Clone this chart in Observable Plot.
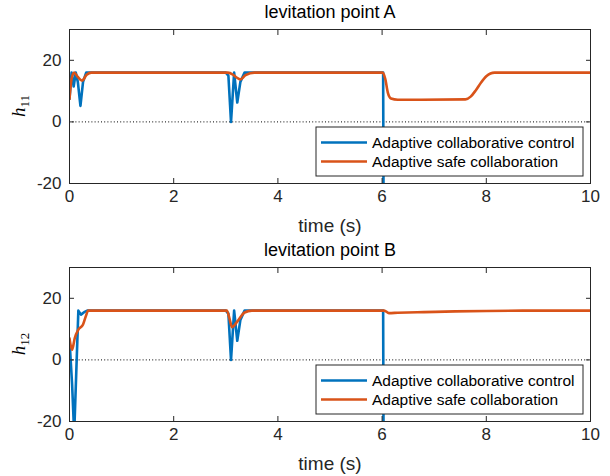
<!DOCTYPE html>
<html><head><meta charset="utf-8">
<script src="https://cdn.jsdelivr.net/npm/d3@7"></script>
<script src="https://cdn.jsdelivr.net/npm/@observablehq/plot@0.6"></script>
<style>
body{margin:0;background:#fff;}
#fig{width:610px;height:476px;background:#fff;}
#fig svg{display:block;}
</style></head><body><div id="fig"></div>
<script>
const seriesNames = ["Adaptive collaborative control", "Adaptive safe collaboration"];
const colors = ["#0072BD", "#D95319"];
const titles = ["levitation point A", "levitation point B"];
const ySubs = ["11", "12"];
const xTicks = [0, 2, 4, 6, 8, 10];
const yTicks = [-20, 0, 20];

// Panel A
const tA_ctrl = [0, 0.04, 0.08, 0.12, 0.16, 0.21, 0.26, 0.32, 3.0, 3.05, 3.1, 3.16, 3.22, 3.28, 3.36, 6.02, 6.03];
const hA_ctrl = [7.5, 16, 11.5, 16, 13, 5.2, 13, 16, 16, 15, 0, 16, 6.3, 13, 16, 16, -40];
const tA_safe = [0, 0.04, 0.09, 0.15, 0.24, 0.33, 0.42, 3.04, 3.14, 3.2, 3.28, 3.38, 3.55, 6.01, 6.06, 6.11, 6.17, 6.3, 7.6, 7.7, 7.8, 7.9, 8.0, 8.08, 8.16, 10];
const hA_safe = [7.5, 14, 16, 14.8, 13.4, 15.3, 16, 16, 15.3, 14.5, 13.8, 15.2, 16, 16, 14, 9.5, 7.6, 7.2, 7.3, 8.2, 10.3, 12.8, 14.8, 15.7, 16, 16];

// Panel B
const tB_ctrl = [0, 0.05, 0.09, 0.13, 0.17, 0.22, 0.28, 0.34, 3.0, 3.05, 3.1, 3.16, 3.22, 3.28, 3.36, 6.02, 6.03];
const hB_ctrl = [6.5, -8, -24, -4, 16, 14.7, 15.5, 16, 16, 15, 0, 16, 6.2, 13, 16, 16, -40];
const tB_safe = [0, 0.05, 0.1, 0.17, 0.26, 0.31, 0.36, 3.02, 3.07, 3.12, 3.23, 3.36, 3.5, 6.04, 6.13, 6.3, 6.8, 7.4, 8.0, 9.0, 10];
const hB_safe = [7, 3.3, 7, 9.8, 11.5, 14, 16, 16, 13.5, 10.6, 12.7, 15.4, 16, 16, 15.2, 15.3, 15.5, 15.75, 15.9, 16, 16];

const FONT = "'Liberation Sans', Arial, Helvetica, sans-serif";
const W = 610, H = 238, mT = 29, mB = 55, mL = 69, mR = 20;

function panel(idx, tc, hc, ts, hs) {
  const ctrl = tc.map((t, i) => ({t, h: hc[i]}));
  const safe = ts.map((t, i) => ({t, h: hs[i]}));
  const svg = Plot.plot({
    width: W, height: H, marginTop: mT, marginBottom: mB, marginLeft: mL, marginRight: mR,
    style: {fontFamily: FONT, fontSize: "17px", color: "#262626", background: "white", overflow: "visible"},
    x: {domain: [0, 10]},
    y: {domain: [-20, 30]},
    marks: [
      Plot.ruleY([0], {stroke: "#000", strokeWidth: 1, strokeDasharray: "1,2.2"}),
      Plot.line(ctrl, {x: "t", y: "h", stroke: colors[0], strokeWidth: 2.6, clip: true}),
      Plot.line(safe, {x: "t", y: "h", stroke: colors[1], strokeWidth: 2.6, curve: "monotone-x", clip: true}),
      Plot.frame({stroke: "#262626", strokeWidth: 1}),
      Plot.axisX({ticks: xTicks, tickSize: 0, tickPadding: 6, tickFormat: d => String(d), label: null, fontSize: 17, fill: "#262626"}),
      Plot.axisX({ticks: [], tickSize: 0, label: "time (s)", labelAnchor: "center", labelArrow: "none", labelOffset: 48, fontSize: 19, fill: "#262626"}),
      Plot.axisX({ticks: xTicks, tickSize: -5, tickFormat: () => "", label: null, stroke: "#262626"}),
      Plot.axisX({anchor: "top", ticks: xTicks, tickSize: -5, tickFormat: () => "", label: null, stroke: "#262626"}),
      Plot.axisY({ticks: yTicks, tickSize: 0, tickPadding: 8, tickFormat: d => String(d), label: null, fontSize: 17, fill: "#262626"}),
      Plot.axisY({ticks: yTicks, tickSize: -5, tickFormat: () => "", label: null, stroke: "#262626"}),
      Plot.axisY({anchor: "right", ticks: yTicks, tickSize: -5, tickFormat: () => "", label: null, stroke: "#262626"}),
      Plot.text([titles[idx]], {text: d => d, frameAnchor: "top", dy: -12, lineAnchor: "bottom", fontSize: 18, fill: "#000"})
    ]
  });
  const s = d3.select(svg);
  // y label h_{1x}
  const cy = mT + (H - mT - mB) / 2;
  const yl = s.append("text")
    .attr("transform", `translate(25,${cy}) rotate(-90)`)
    .attr("text-anchor", "middle")
    .attr("font-family", "'Liberation Serif', 'Times New Roman', serif")
    .attr("font-size", 19)
    .attr("fill", "#000");
  yl.append("tspan").attr("font-style", "italic").text("h");
  yl.append("tspan").attr("font-size", 13).attr("dy", 4).text(ySubs[idx]);

  // legend
  const lw = 267, lh = 49;
  const lx = W - mR - 7 - lw, ly = H - mB - 7 - lh;
  const g = s.append("g");
  g.append("rect").attr("x", lx).attr("y", ly).attr("width", lw).attr("height", lh)
    .attr("fill", "white").attr("stroke", "#262626").attr("stroke-width", 1);
  seriesNames.forEach((name, i) => {
    const yy = ly + 15.5 + i * 19;
    g.append("line").attr("x1", lx + 5).attr("x2", lx + 51).attr("y1", yy).attr("y2", yy)
      .attr("stroke", colors[i]).attr("stroke-width", 2.6);
    g.append("text").attr("x", lx + 56).attr("y", yy).attr("dy", "0.35em")
      .attr("text-anchor", "start")
      .attr("font-family", FONT).attr("font-size", 15.5).attr("fill", "#000").text(name);
  });
  return svg;
}

const fig = document.getElementById("fig");
fig.appendChild(panel(0, tA_ctrl, hA_ctrl, tA_safe, hA_safe));
fig.appendChild(panel(1, tB_ctrl, hB_ctrl, tB_safe, hB_safe));
</script>
</body></html>
